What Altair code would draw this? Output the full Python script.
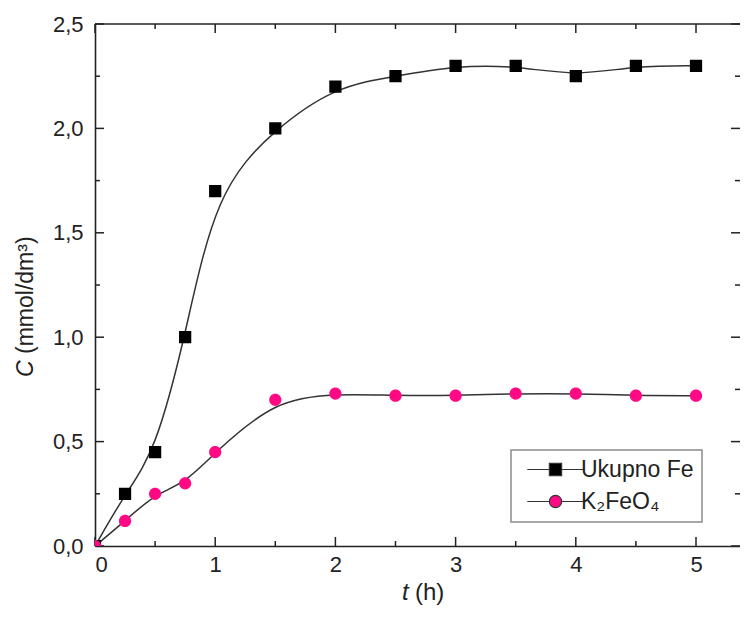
import altair as alt
import pandas as pd

# ---- data ----
t_h = [0, 0.25, 0.5, 0.75, 1, 1.5, 2, 2.5, 3, 3.5, 4, 4.5, 5]
fe_total = [0.0, 0.25, 0.45, 1.0, 1.7, 2.0, 2.2, 2.25, 2.3, 2.3, 2.25, 2.3, 2.3]
k2feo4 = [0.0, 0.12, 0.25, 0.30, 0.45, 0.70, 0.73, 0.72, 0.72, 0.73, 0.73, 0.72, 0.72]
series_names = ["Ukupno Fe", "K₂FeO₄"]

x_major = [0, 1, 2, 3, 4, 5]
x_minor = [0.5, 1.5, 2.5, 3.5, 4.5]
y_major = [0, 0.5, 1.0, 1.5, 2.0, 2.5]
y_minor = [0.25, 0.75, 1.25, 1.75, 2.25]

# ---- layout ----
W, H = 645, 522
X_DOMAIN = [0, 5.366]
Y_DOMAIN = [0, 2.5]
FONT = "Liberation Sans"
INK = "#222222"

df = pd.DataFrame({
    "t": t_h + t_h,
    "c": fe_total + k2feo4,
    "series": [series_names[0]] * len(t_h) + [series_names[1]] * len(t_h),
})

xs = alt.Scale(domain=X_DOMAIN, nice=False, zero=False)
ys = alt.Scale(domain=Y_DOMAIN, nice=False, zero=False)

x_axis = alt.Axis(values=x_major, format="d", title=None, ticks=False, domain=True,
                  domainColor=INK, domainWidth=1.6, grid=False, labelFontSize=22,
                  labelFont=FONT, labelColor=INK, labelPadding=8)
y_axis = alt.Axis(values=y_major, format=".1f", labelExpr="replace(datum.label, '.', ',')",
                  title=None, ticks=False, domain=True, domainColor=INK, domainWidth=1.6,
                  grid=False, labelFontSize=22, labelFont=FONT, labelColor=INK, labelPadding=12)

def X(field):
    return alt.X(field, scale=xs, axis=x_axis)

def Y(field):
    return alt.Y(field, scale=ys, axis=y_axis)

square_path = "M-4.6,0H-1M1,0H4.6M-1,-1H1V1H-1Z"
circle_path = "M-4.6,0H-1M1,0H4.6M-1,0A1,1 0 1,0 1,0A1,1 0 1,0 -1,0Z"

base = alt.Chart(df)

lines = base.mark_line(interpolate="basis", color="#333333", strokeWidth=1.5, clip=True).encode(
    x=X("t:Q"), y=Y("c:Q"), detail="series:N",
)

points = base.mark_point(filled=True, opacity=1, size=150, clip=True).encode(
    x=X("t:Q"),
    y=Y("c:Q"),
    color=alt.Color("series:N", scale=alt.Scale(domain=series_names, range=["#000000", "#ff0a84"]),
                    legend=alt.Legend(title=None)),
    shape=alt.Shape("series:N", scale=alt.Scale(domain=series_names, range=[square_path, circle_path]),
                    legend=alt.Legend(title=None)),
)

def tick_layer(values, axis_ch, length, side):
    d = pd.DataFrame({"v": values})
    c = alt.Chart(d).mark_rule(color=INK, strokeWidth=1.5)
    if axis_ch == "x":
        if side == "bottom":
            return c.encode(x=X("v:Q"), y=alt.value(H), y2=alt.value(H - length))
        return c.encode(x=X("v:Q"), y=alt.value(0), y2=alt.value(length))
    if side == "left":
        return c.encode(y=Y("v:Q"), x=alt.value(0), x2=alt.value(length))
    return c.encode(y=Y("v:Q"), x=alt.value(W), x2=alt.value(W - length))

ticks = [
    tick_layer(x_major, "x", 9, "bottom"), tick_layer(x_minor, "x", 5, "bottom"),
    tick_layer(x_major, "x", 9, "top"), tick_layer(x_minor, "x", 5, "top"),
    tick_layer(y_major, "y", 9, "left"), tick_layer(y_minor, "y", 5, "left"),
    tick_layer(y_major, "y", 9, "right"), tick_layer(y_minor, "y", 5, "right"),
]

txt = alt.Chart(pd.DataFrame({"a": [0]}))
top_border = txt.mark_rule(color=INK, strokeWidth=1.6).encode(
    x=alt.value(0), x2=alt.value(W), y=alt.value(0))
x_title_t = txt.mark_text(text="t", font=FONT, fontSize=24, fontStyle="italic", align="left",
                          baseline="alphabetic", color=INK).encode(x=alt.value(307), y=alt.value(576))
x_title_h = txt.mark_text(text="(h)", font=FONT, fontSize=24, align="left",
                          baseline="alphabetic", color=INK).encode(x=alt.value(320), y=alt.value(576))
y_title_c = txt.mark_text(text="C", font=FONT, fontSize=23, fontStyle="italic", align="left", angle=270,
                          baseline="alphabetic", color=INK).encode(x=alt.value(-62), y=alt.value(353))
y_title_u = txt.mark_text(text="(mmol/dm³)", font=FONT, fontSize=23, align="left", angle=270,
                          baseline="alphabetic", color=INK).encode(x=alt.value(-62), y=alt.value(330))

chart = alt.layer(
    lines, *ticks, points, top_border, x_title_t, x_title_h, y_title_c, y_title_u
).properties(
    width=W, height=H,
    padding={"left": 87, "top": 16, "right": 0, "bottom": 60},
    autosize=alt.AutoSizeParams(type="none"),
).configure_view(
    stroke=None
).configure_legend(
    orient="none", legendX=416, legendY=426,
    padding=8, strokeColor="#8c8c8c", fillColor="white", strokeWidth=1.5, cornerRadius=0,
    labelFont=FONT, labelFontSize=23, labelColor=INK,
    symbolSize=150, symbolStrokeColor="#333333", symbolStrokeWidth=1.2,
    symbolOffset=25, labelOffset=14, rowPadding=8, labelLimit=300,
)

chart.save("out.html", embed_options={"renderer": "svg", "actions": False})
